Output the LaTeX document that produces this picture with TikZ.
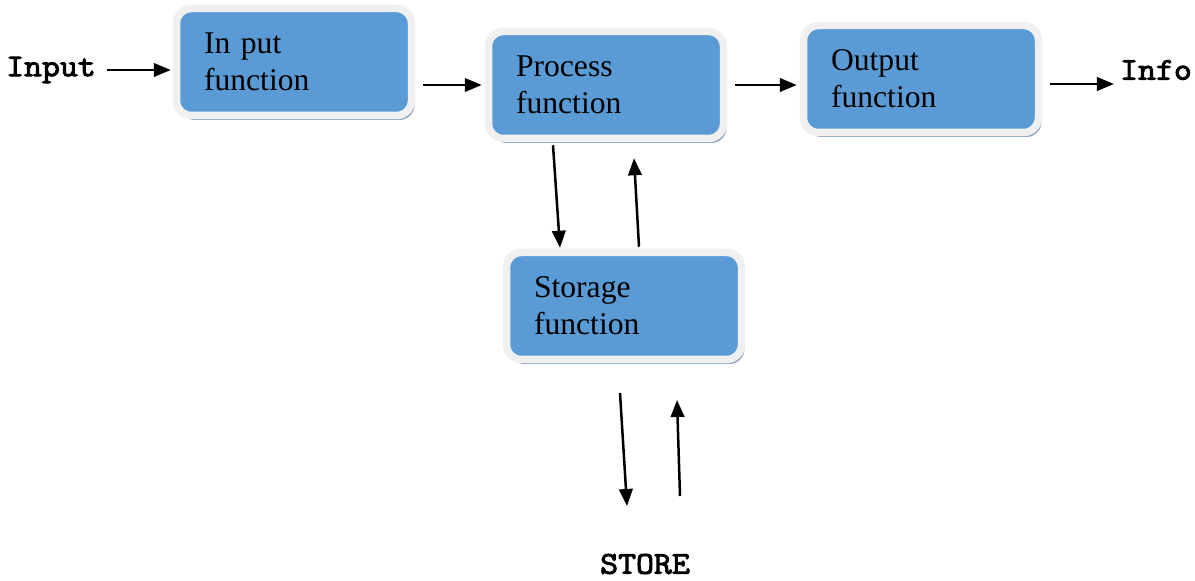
\documentclass[tikz,border=0pt]{standalone}
\usepackage{fontspec}
\setmainfont{Liberation Serif}
\newfontfamily\lblfont{Latin Modern Mono}[FakeBold=3, FakeStretch=1.1]
\usetikzlibrary{arrows.meta,shadows}

\definecolor{boxblue}{HTML}{5B9BD5}
\definecolor{boxrim}{HTML}{F0F0F0}
\definecolor{boxshade}{HTML}{93A8C4}

\begin{document}
\begin{tikzpicture}[
    funcbox/.style={rectangle, rounded corners=0.3cm, fill=boxblue, draw=boxrim,
        line width=0.15cm, minimum width=4.7cm, minimum height=2.14cm,
        text width=3.6cm, align=left, inner sep=0pt,
        font=\fontsize{18}{21}\selectfont,
        drop shadow={shadow xshift=0.06cm, shadow yshift=-0.09cm,
            fill=boxshade, opacity=1}},
    lbl/.style={font=\lblfont\fontsize{18}{20}\selectfont},
    arr/.style={-{Triangle[length=0.34cm,width=0.27cm]}, line width=0.05cm}
  ]
    \useasboundingbox (0,0) rectangle (23.9,11.6);

    % Function boxes
    \node[funcbox] (inp)  at (5.88, 10.36) {In put\\function};
    \node[funcbox] (proc) at (12.12, 9.90) {Process\\function};
    \node[funcbox] (outp) at (18.42, 10.02) {Output\\function};
    \node[funcbox] (stor) at (12.48, 5.48) {Storage\\function};

    % Outer labels
    \node[lbl] (inlbl)   at (1.02, 10.2) {Input};
    \node[lbl] (infolbl) at (23.12, 10.2) {Info};
    \node[lbl] (storelbl) at (12.9, 0.32) {STORE};

    % Main flow
    \draw[arr, shorten <=0.1cm, shorten >=0.04cm] (inlbl.east) -- (inlbl.east -| inp.west);
    \draw[arr, shorten <=0.16cm, shorten >=0.06cm] (inp.east |- proc.west) -- (proc.west);
    \draw[arr, shorten <=0.16cm, shorten >=0.06cm] (proc.east) -- (proc.east -| outp.west);
    \draw[arr, shorten <=0.16cm] ([yshift=-0.1cm]outp.east) -- ([yshift=-0.1cm]outp.east -| infolbl.west);

    % Process <-> storage
    \draw[arr] ([xshift=-1.06cm, yshift=-0.06cm]proc.south) -- ([xshift=-1.28cm, yshift=0.02cm]stor.north);
    \draw[arr] ([xshift=0.3cm, yshift=0.04cm]stor.north) -- ([xshift=0.56cm, yshift=-0.32cm]proc.south);

    % Storage <-> store
    \coordinate (down1) at (12.40, 3.74);
    \coordinate (down2) at (12.54, 1.48);
    \coordinate (up1)   at (13.60, 1.68);
    \coordinate (up2)   at (13.54, 3.60);
    \draw[arr] (down1) -- (down2);
    \draw[arr] (up1) -- (up2);
\end{tikzpicture}
\end{document}
